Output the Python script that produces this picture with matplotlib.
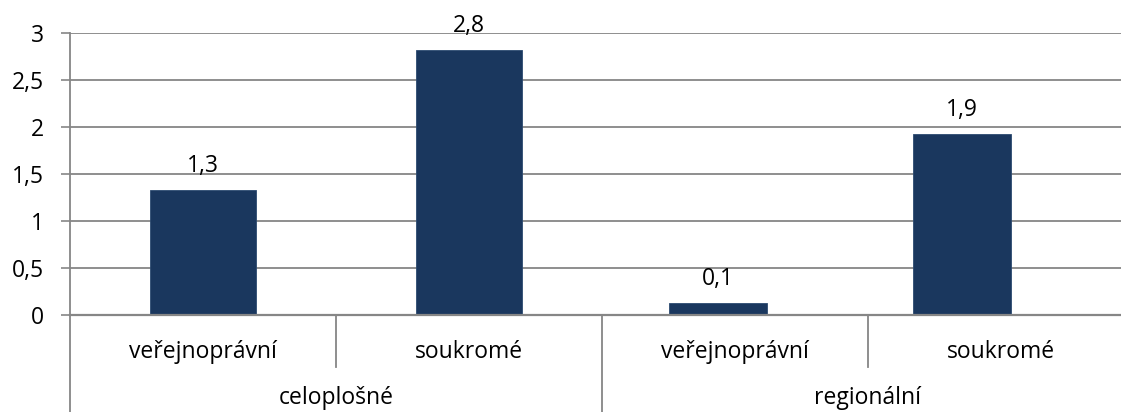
import matplotlib.pyplot as plt

# data
groups = ["celoplošné", "regionální"]
categories = ["veřejnoprávní", "soukromé", "veřejnoprávní", "soukromé"]
values = [1.33, 2.82, 0.13, 1.93]
value_labels = ["1,3", "2,8", "0,1", "1,9"]
y_ticks = [0, 0.5, 1, 1.5, 2, 2.5, 3]
y_tick_labels = ["0", "0,5", "1", "1,5", "2", "2,5", "3"]

BAR_COLOR = "#1a375e"
GRID_COLOR = "#868686"
FONT = ["Open Sans", "DejaVu Sans"]
FS = 16.5

plt.rcParams["font.family"] = FONT

W, H = 1121, 412
fig = plt.figure(figsize=(W / 100, H / 100), dpi=100)
# plot area in pixels: x 70..1134 (cut off on the right), y 33..315
left, right, top, bottom = 70, 1134, 33, 315
ax = fig.add_axes([left / W, (H - bottom) / H, (right - left) / W, (bottom - top) / H])

# bar placement as it appears in the picture (regional bars sit a bit left)
offsets = [0.0, 0.0, -0.064, -0.147]
widths = [0.40, 0.40, 0.365, 0.368]
xs = [i + o for i, o in enumerate(offsets)]

bars = ax.bar(xs, values, width=widths, color=BAR_COLOR, edgecolor="#2c4a70",
              linewidth=0.6, zorder=3)
for x, v, lab in zip(xs, values, value_labels):
    ax.annotate(lab, (x, v), xytext=(0, 13), textcoords="offset points",
                ha="center", va="baseline", fontsize=FS, color="black")

ax.set_xlim(-0.5, len(categories) - 0.5)
ax.set_ylim(0, 3)
ax.set_yticks(y_ticks)
ax.set_yticklabels(y_tick_labels, fontsize=FS)
ax.tick_params(axis="y", length=6.5, width=1.2, color=GRID_COLOR, pad=12)
ax.set_xticks([])
ax.yaxis.grid(True, color=GRID_COLOR, linewidth=1.3, zorder=0)

for s in ["top", "right"]:
    ax.spines[s].set_visible(False)
ax.spines["left"].set_color(GRID_COLOR)
ax.spines["left"].set_linewidth(1.3)
ax.spines["bottom"].set_color(GRID_COLOR)
ax.spines["bottom"].set_linewidth(1.6)
ax.spines["bottom"].set_zorder(4)

# multi-level category axis
tr = ax.get_xaxis_transform()
px = 1.0 / (bottom - top)
deep = -(H - bottom) * px
short = -(367 - bottom) * px
ax.plot([-0.5, -0.5], [0, deep], transform=tr, color=GRID_COLOR, lw=1.3, clip_on=False)
ax.plot([1.5, 1.5], [0, deep], transform=tr, color=GRID_COLOR, lw=1.3, clip_on=False)
for sx in [0.5, 2.5]:
    ax.plot([sx, sx], [0, short], transform=tr, color=GRID_COLOR, lw=1.3, clip_on=False)

row1 = -(352 - bottom) * px
row2 = -(398 - bottom) * px
for i, c in enumerate(categories):
    ax.text(i, row1, c, transform=tr, ha="center", va="center", fontsize=FS)
for g, name in enumerate(groups):
    ax.text(2 * g + 0.5, row2, name, transform=tr, ha="center", va="center", fontsize=FS)

fig.savefig("out.png", dpi=100)
